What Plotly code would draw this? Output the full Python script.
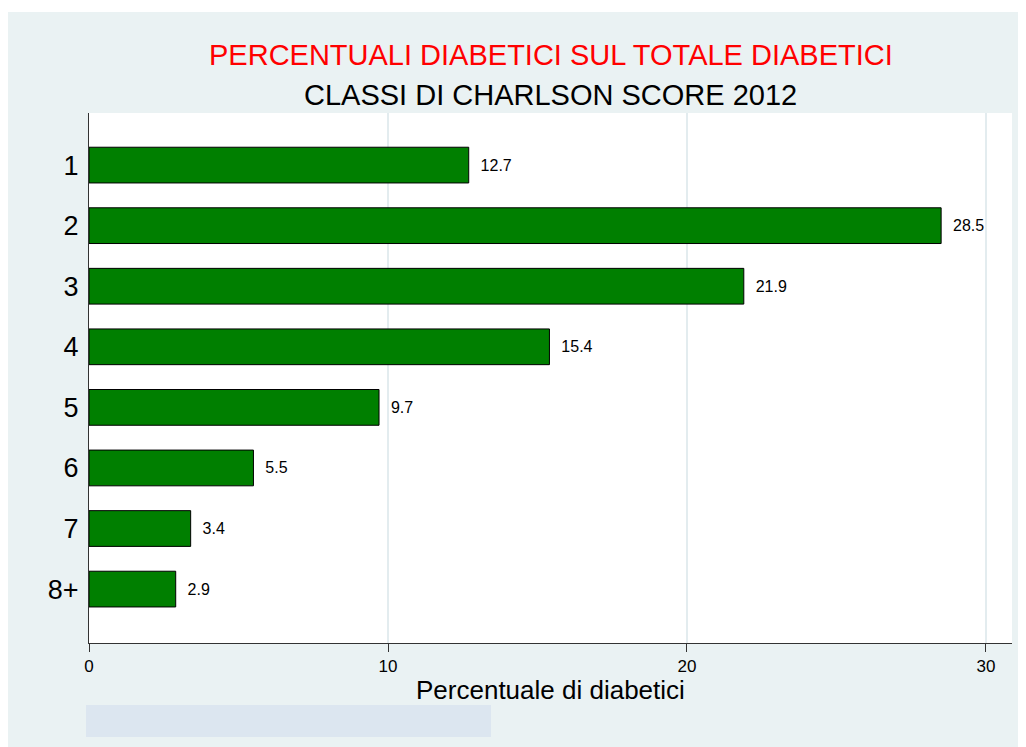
import plotly.graph_objects as go

classi = ["1", "2", "3", "4", "5", "6", "7", "8+"]
percentuali = [12.7, 28.5, 21.9, 15.4, 9.7, 5.5, 3.4, 2.9]
tick_x = [0, 10, 20, 30]

FONT = "Liberation Sans, Arial, sans-serif"

# area del grafico in pixel (dentro la figura)
L, T, R, B = 81, 105, 22, 112
W, H = 1026, 747
PW, PH = W - L - R, H - T - B


def px_x(x):
    return (x - L) / PW


def px_y(y):
    return (H - B - y) / PH


fig = go.Figure(
    data=[
        go.Bar(
            x=percentuali,
            y=classi,
            orientation="h",
            marker_color="#007F00",
            marker_line_color="black",
            marker_line_width=1,
            text=["\u00a0\u00a0" + f"{v:.1f}" for v in percentuali],
            textposition="outside",
            textfont=dict(size=16, color="black"),
            cliponaxis=False,
        ),
    ],
    layout=go.Layout(
        width=W,
        height=H,
        margin=dict(l=L, r=R, t=T, b=B),
        paper_bgcolor="#EAF2F3",
        plot_bgcolor="white",
        font=dict(family=FONT, color="black"),
        bargap=0.41,
        showlegend=False,
    ),
)

fig.update_xaxes(
    range=[0, 30.87],
    tickvals=tick_x,
    showgrid=True,
    gridcolor="#E3ECEF",
    gridwidth=2,
    zeroline=False,
    showline=True,
    linecolor="#333333",
    linewidth=1,
    ticks="outside",
    ticklen=8,
    tickcolor="#333333",
    tickfont=dict(size=17),
)
fig.update_yaxes(
    type="category",
    range=[7.89, -0.86],
    showgrid=False,
    showline=True,
    linecolor="#333333",
    linewidth=1,
    ticks="",
    ticklabelstandoff=4,
    tickfont=dict(size=27),
)

# titoli
fig.add_annotation(text="PERCENTUALI DIABETICI SUL TOTALE DIABETICI", x=0.5, y=px_y(47),
                   xref="paper", yref="paper", showarrow=False, yanchor="middle",
                   font=dict(size=29, color="#FF0000"))
fig.add_annotation(text="CLASSI DI CHARLSON SCORE 2012", x=0.5, y=px_y(87),
                   xref="paper", yref="paper", showarrow=False, yanchor="middle",
                   font=dict(size=29, color="black"))
fig.add_annotation(text="Percentuale di diabetici", x=0.5, y=px_y(682),
                   xref="paper", yref="paper", showarrow=False, yanchor="middle",
                   font=dict(size=26, color="black"))

# striscia bianca in alto e riquadro della nota
fig.add_shape(type="rect", xref="paper", yref="paper", x0=px_x(0), x1=px_x(W),
              y0=px_y(4), y1=px_y(0), fillcolor="white", line_width=0, layer="below")
fig.add_shape(type="rect", xref="paper", yref="paper", x0=px_x(78), x1=px_x(483),
              y0=px_y(729), y1=px_y(697), fillcolor="#DCE6F0", line_width=0)

fig.write_html("out.html")
